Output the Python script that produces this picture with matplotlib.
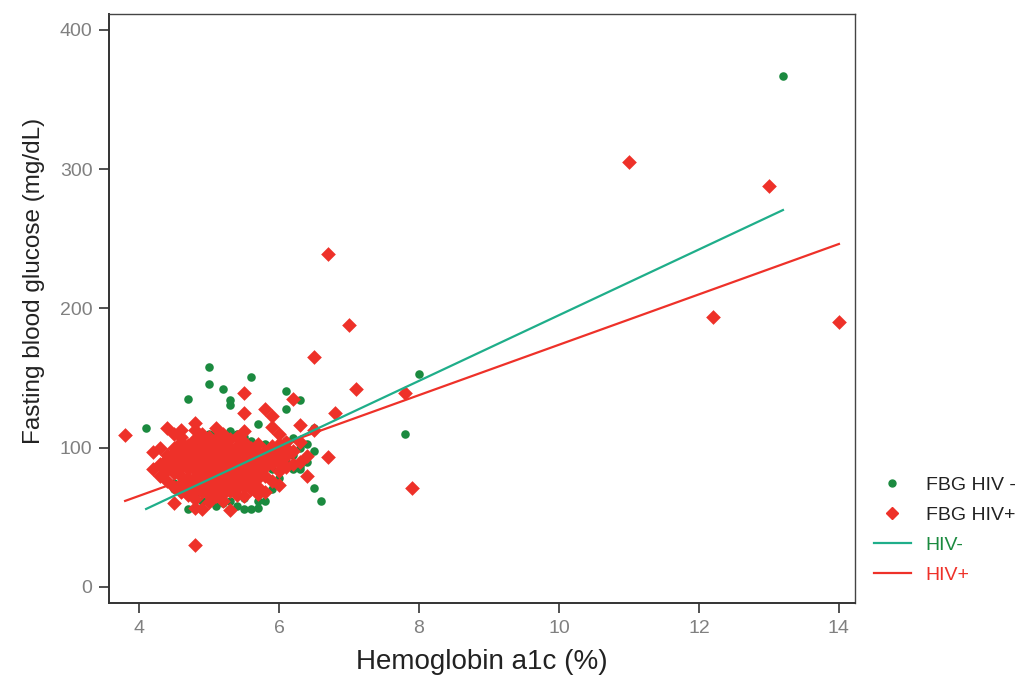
import matplotlib
matplotlib.use("Agg")
import matplotlib.pyplot as plt
from matplotlib.lines import Line2D
import numpy as np

plt.rcParams['font.family'] = ['Liberation Sans', 'DejaVu Sans']

# HbA1c (%) and fasting blood glucose (mg/dL), HIV-negative group
neg_a1c = [13.2, 8.0, 7.8, 6.6, 6.5, 6.5, 6.5, 6.4, 6.4, 6.3, 6.3, 6.3, 6.3,
           6.2, 6.2, 6.2, 6.1, 6.1, 6.1, 6.1, 6.0, 6.0, 6.0,
           5.9, 5.9, 5.9, 5.9, 5.8, 5.8, 5.8, 5.8, 5.8,
           5.7, 5.7, 5.7, 5.6, 5.6, 5.6, 5.5, 5.5, 5.5, 5.4, 5.4, 5.4,
           5.3, 5.3, 5.3, 5.3, 5.2, 5.2, 5.2, 5.2, 5.1, 5.1,
           5.0, 5.0, 5.0, 5.0, 5.0, 4.9, 4.9, 4.9, 4.8, 4.8,
           4.7, 4.7, 4.7, 4.6, 4.6, 4.6, 4.5, 4.5, 4.1]
neg_fbg = [367, 153, 110, 62, 98, 71, 114, 103, 90, 134, 87, 85, 100,
           107, 95, 85, 141, 128, 105, 90, 98, 92, 78,
           100, 91, 85, 70, 103, 62, 95, 88, 80,
           117, 57, 62, 151, 56, 105, 56, 108, 64, 58, 110, 90,
           134, 131, 62, 112, 142, 108, 60, 75, 58, 112,
           158, 146, 110, 64, 85, 106, 62, 80, 100, 65,
           135, 56, 93, 104, 95, 68, 70, 75, 114]

# HIV-positive group
pos_a1c = [3.8, 4.2, 4.2, 4.3, 4.3, 4.3,
           4.4, 4.4, 4.4, 4.4, 4.4,
           4.5, 4.5, 4.5, 4.5, 4.5, 4.5, 4.5,
           4.6, 4.6, 4.6, 4.6, 4.6, 4.6, 4.6, 4.6, 4.6,
           4.7, 4.7, 4.7, 4.7, 4.7, 4.7, 4.7, 4.7, 4.7,
           4.8, 4.8, 4.8, 4.8, 4.8, 4.8, 4.8, 4.8, 4.8, 4.8, 4.8, 4.8, 4.8,
           4.9, 4.9, 4.9, 4.9, 4.9, 4.9, 4.9, 4.9, 4.9, 4.9, 4.9,
           5.0, 5.0, 5.0, 5.0, 5.0, 5.0, 5.0, 5.0, 5.0, 5.0, 5.0, 5.0,
           5.1, 5.1, 5.1, 5.1, 5.1, 5.1, 5.1, 5.1, 5.1, 5.1, 5.1,
           5.2, 5.2, 5.2, 5.2, 5.2, 5.2, 5.2, 5.2, 5.2, 5.2, 5.2,
           5.3, 5.3, 5.3, 5.3, 5.3, 5.3, 5.3, 5.3, 5.3, 5.3,
           5.4, 5.4, 5.4, 5.4, 5.4, 5.4, 5.4, 5.4, 5.4, 5.4,
           5.5, 5.5, 5.5, 5.5, 5.5, 5.5, 5.5, 5.5, 5.5, 5.5,
           5.6, 5.6, 5.6, 5.6, 5.6, 5.6, 5.6,
           5.7, 5.7, 5.7, 5.7, 5.7, 5.7, 5.7,
           5.8, 5.8, 5.8, 5.8, 5.8, 5.8,
           5.9, 5.9, 5.9, 5.9, 5.9, 5.9,
           6.0, 6.0, 6.0, 6.0, 6.0, 6.0,
           6.1, 6.1, 6.1, 6.1, 6.2, 6.2, 6.2, 6.3, 6.3, 6.3,
           6.4, 6.4, 6.5, 6.5, 6.7, 6.7, 6.8, 7.0, 7.1, 7.8, 7.9,
           11.0, 12.2, 13.0, 14.0]
pos_fbg = [109, 85, 97, 100, 88, 80,
           114, 95, 84, 76, 92,
           110, 96, 88, 82, 72, 60, 100,
           113, 104, 98, 92, 86, 80, 74, 68, 108,
           102, 95, 90, 85, 78, 72, 66, 100, 88,
           118, 113, 106, 99, 94, 89, 84, 79, 74, 69, 63, 57, 30,
           110, 104, 98, 93, 88, 83, 78, 73, 68, 56, 101,
           108, 102, 96, 91, 86, 81, 76, 71, 66, 61, 94, 84,
           114, 106, 100, 95, 90, 85, 80, 75, 70, 65, 88,
           110, 104, 98, 92, 87, 82, 77, 72, 67, 62, 94,
           106, 100, 95, 90, 85, 80, 74, 69, 55, 88,
           108, 101, 96, 91, 86, 81, 76, 71, 66, 92,
           139, 125, 112, 104, 97, 90, 84, 78, 72, 65,
           100, 94, 88, 82, 76, 70, 86,
           103, 96, 90, 84, 78, 72, 67,
           128, 98, 92, 86, 80, 68,
           123, 115, 101, 94, 88, 76,
           110, 103, 96, 90, 83, 73,
           104, 94, 86, 100, 135, 98, 88, 116, 104, 90,
           94, 80, 165, 113, 239, 93, 125, 188, 142, 139, 71,
           305, 194, 288, 190]

# fitted regression lines (slope, intercept)
neg_fit = (23.59, -40.7)
pos_fit = (18.09, -6.94)

GREEN = '#1b8a3f'
RED = '#ee3129'
TEAL = '#1fae8a'

fig = plt.figure(figsize=(10.18, 6.75), dpi=100)
ax = fig.add_axes([0.1071, 0.1067, 0.7328, 0.8726])

ax.scatter(neg_a1c, neg_fbg, s=38, marker='o', color=GREEN, linewidths=0, zorder=2)
ax.scatter(pos_a1c, pos_fbg, s=56, marker='D', color=RED, linewidths=0, zorder=3)

xn = np.array([min(neg_a1c), max(neg_a1c)])
xp = np.array([min(pos_a1c), max(pos_a1c)])
ax.plot(xp, pos_fit[0] * xp + pos_fit[1], color=RED, lw=1.6, zorder=4)
ax.plot(xn, neg_fit[0] * xn + neg_fit[1], color=TEAL, lw=1.6, zorder=5)

ax.set_xlim(3.57, 14.23)
ax.set_ylim(-11.5, 411.5)
ax.set_xticks([4, 6, 8, 10, 12, 14])
ax.set_yticks([0, 100, 200, 300, 400])

ax.tick_params(axis='both', direction='out', length=7, width=1.2, color='#333333',
               labelcolor='#808080', labelsize=14, pad=5)
for side in ['left', 'bottom']:
    ax.spines[side].set_linewidth(1.4)
    ax.spines[side].set_color('#333333')
for side in ['top', 'right']:
    ax.spines[side].set_linewidth(1.0)
    ax.spines[side].set_color('#444444')

ax.set_xlabel('Hemoglobin a1c (%)', fontsize=20, color='#222222', labelpad=9)
ax.set_ylabel('Fasting blood glucose (mg/dL)', fontsize=17.5, color='#222222')
ax.yaxis.set_label_coords(-0.0858, 0.547)

handles = [
    Line2D([], [], ls='none', marker='o', color=GREEN, markersize=5),
    Line2D([], [], ls='none', marker='D', color=RED, markersize=6),
    Line2D([], [], color=TEAL, lw=1.6),
    Line2D([], [], color=RED, lw=1.6),
]
labels = ['FBG HIV -', 'FBG HIV+', 'HIV-', 'HIV+']
leg = fig.legend(handles, labels, loc='upper left', bbox_to_anchor=(874 / 1018, 1 - 476 / 675),
                 frameon=False, fontsize=14, borderpad=0, borderaxespad=0,
                 handlelength=1.9, handletextpad=0.75, labelspacing=0.64)
txt = leg.get_texts()
txt[0].set_color('#222222')
txt[1].set_color('#222222')
txt[2].set_color(GREEN)
txt[3].set_color(RED)

fig.savefig('out.png', dpi=100)
